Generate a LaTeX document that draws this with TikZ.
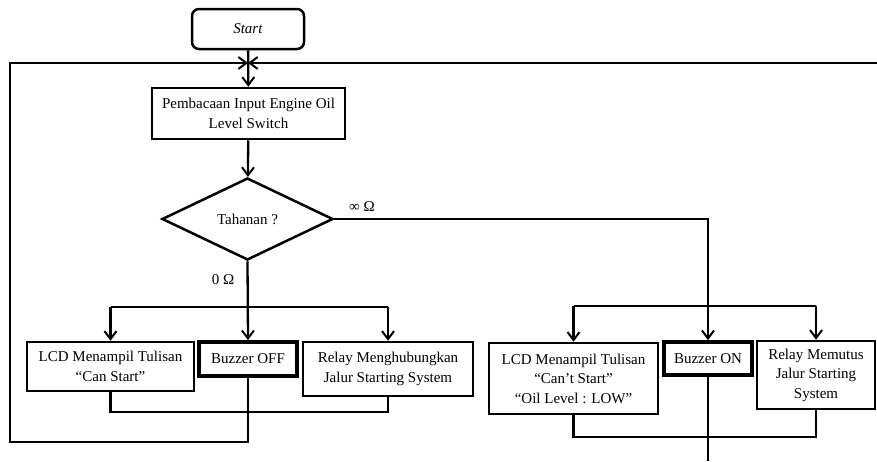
\documentclass[tikz,border=0pt]{standalone}
\usepackage{fontspec}
\setmainfont{Liberation Serif}
\usetikzlibrary{shapes.geometric,arrows.meta}
\tikzset{
    kotak/.style={draw,line width=2.5pt,align=center,inner sep=0pt,font=\fontsize{15}{19.5}\selectfont},
    mulai/.style={kotak,rounded corners=7pt,minimum width=112pt,minimum height=40pt},
    tebal/.style={kotak,line width=3.8pt},
    cabang/.style={kotak,diamond,minimum width=171pt,minimum height=82pt},
    garis/.style={line width=2.3pt},
    panah/.style={garis,-{Straight Barb[length=8pt,width=12pt,line width=2pt]}},
    teks/.style={font=\fontsize{15}{19.5}\selectfont}
}
\begin{document}
\begin{tikzpicture}[x=1pt,y=-1pt]
    \useasboundingbox (0,0) rectangle (877,461);
    % kotak-kotak
    \node [mulai] (start) at (248,29) {\textit{Start}};
    \node [kotak,minimum width=193pt,minimum height=51pt] (baca) at (248.5,113.5)
        {Pembacaan Input Engine Oil\\Level Switch};
    \node [cabang] (tahanan) at (247.5,219) {Tahanan ?};
    \node [kotak,minimum width=167pt,minimum height=49pt] (lcdA) at (110.5,366.5)
        {LCD Menampil Tulisan\\``Can Start''};
    \node [tebal,minimum width=98pt,minimum height=34pt] (buzA) at (248,359) {Buzzer OFF};
    \node [kotak,minimum width=170pt,minimum height=54pt] (relA) at (388,369)
        {Relay Menghubungkan\\Jalur Starting System};
    \node [kotak,minimum width=169pt,minimum height=71pt] (lcdB) at (573.5,378.5)
        {LCD Menampil Tulisan\\``Can't Start''\\``Oil Level : LOW''};
    \node [tebal,minimum width=88pt,minimum height=33pt] (buzB) at (708,358.5) {Buzzer ON};
    \node [kotak,minimum width=118pt,minimum height=68pt] (relB) at (816,375)
        {Relay Memutus\\Jalur Starting\\System};
    % titik bantu
    \coordinate (gabung) at (248,63);
    \coordinate (loopA) at (10,442);
    \coordinate (loopB) at (877,63);
    \coordinate (pisahA) at (248,307);
    \coordinate (pisahB) at (708,306);
    \coordinate (satuA) at (248,412);
    \coordinate (satuB) at (708,437);
    \coordinate (keluarB) at (708,461);
    % garis
    \draw [panah] (start) -- (baca);
    \draw [panah] (loopB) -- (gabung);
    \draw [panah] (buzA.south) |- (loopA) |- (gabung);
    \draw [panah] (baca) -- (tahanan);
    \draw [panah] (tahanan.east) -| (buzB.north);
    \draw [panah] (tahanan.south) -- (buzA.north);
    \draw [garis] (pisahA -| lcdA.north) -- (pisahA -| relA.north);
    \draw [panah] (pisahA -| lcdA.north) -- (lcdA.north);
    \draw [panah] (pisahA -| relA.north) -- (relA.north);
    \draw [garis] (lcdA.south) |- (satuA) -| (relA.south);
    \draw [garis] (pisahB -| lcdB.north) -- (pisahB -| relB.north);
    \draw [panah] (pisahB -| lcdB.north) -- (lcdB.north);
    \draw [panah] (pisahB -| relB.north) -- (relB.north);
    \draw [garis] (lcdB.south) |- (satuB) -| (relB.south);
    \draw [garis] (buzB.south) -- (keluarB);
    % label
    \node [teks] (tak) at (362,207) {∞ Ω};
    \node [teks] (nol) at (223,280) {0 Ω};
\end{tikzpicture}
\end{document}
